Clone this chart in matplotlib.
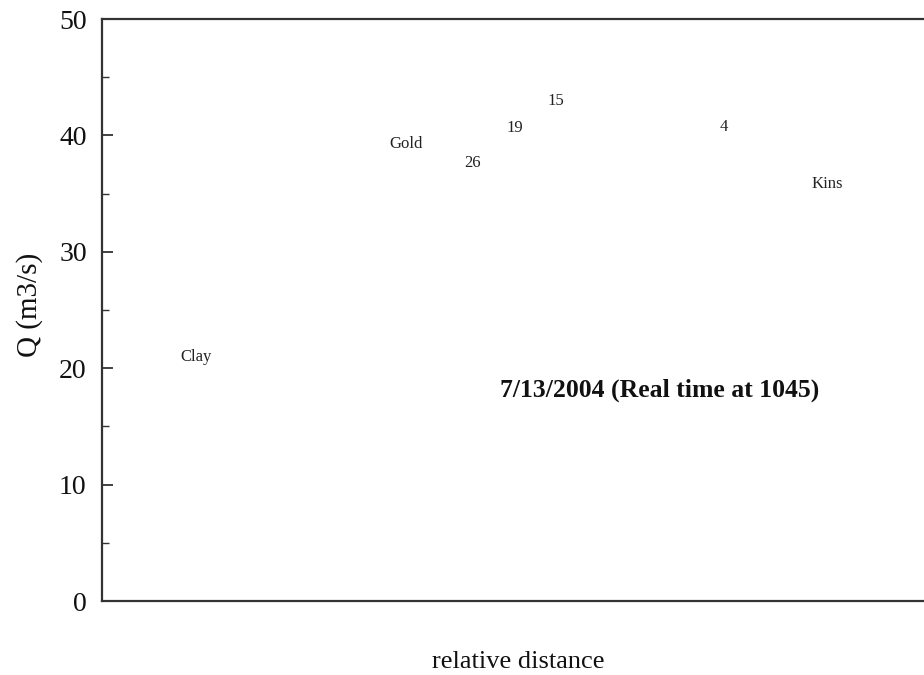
import matplotlib
matplotlib.use("Agg")
import matplotlib.pyplot as plt
from matplotlib.ticker import MultipleLocator, NullLocator

plt.rcParams['font.family'] = ['Liberation Serif', 'DejaVu Serif']

stations = ["Clay", "Gold", "26", "19", "15", "4", "Kins"]
rel_dist = [0.113, 0.366, 0.445, 0.496, 0.546, 0.748, 0.872]
flow_q = [21.0, 39.3, 37.6, 40.6, 43.0, 40.7, 35.8]

fig = plt.figure(figsize=(9.24, 6.75), dpi=100)
ax = fig.add_axes([0.1104, 0.1096, 0.9, 0.8622])
ax.set_xlim(0, 1)
ax.set_ylim(0, 50)

for name, x, y in zip(stations, rel_dist, flow_q):
    ax.text(x, y, name, ha='center', va='center', fontsize=12, color='#222222')

ax.text(0.671, 0.3625, "7/13/2004 (Real time at 1045)", transform=ax.transAxes,
        ha='center', va='center', fontsize=18.5, fontweight='bold', color='#111111')

ax.yaxis.set_major_locator(MultipleLocator(10))
ax.yaxis.set_minor_locator(MultipleLocator(5))
ax.xaxis.set_major_locator(NullLocator())
ax.tick_params(axis='y', which='major', direction='in', length=8, width=1.3,
               labelsize=20, pad=11, colors='#333333', labelcolor='#111111')
ax.tick_params(axis='y', which='minor', direction='in', length=5, width=1.0, colors='#333333')
for s in ['left', 'bottom', 'top']:
    ax.spines[s].set_linewidth(1.6)
    ax.spines[s].set_color('#333333')
ax.spines['right'].set_visible(False)

ax.set_ylabel("Q (m3/s)", fontsize=21, color='#111111')
ax.yaxis.set_label_coords(-0.071, 0.509)
ax.set_xlabel("relative distance", fontsize=19, labelpad=36, color='#111111')

fig.savefig("out.png", dpi=100)
